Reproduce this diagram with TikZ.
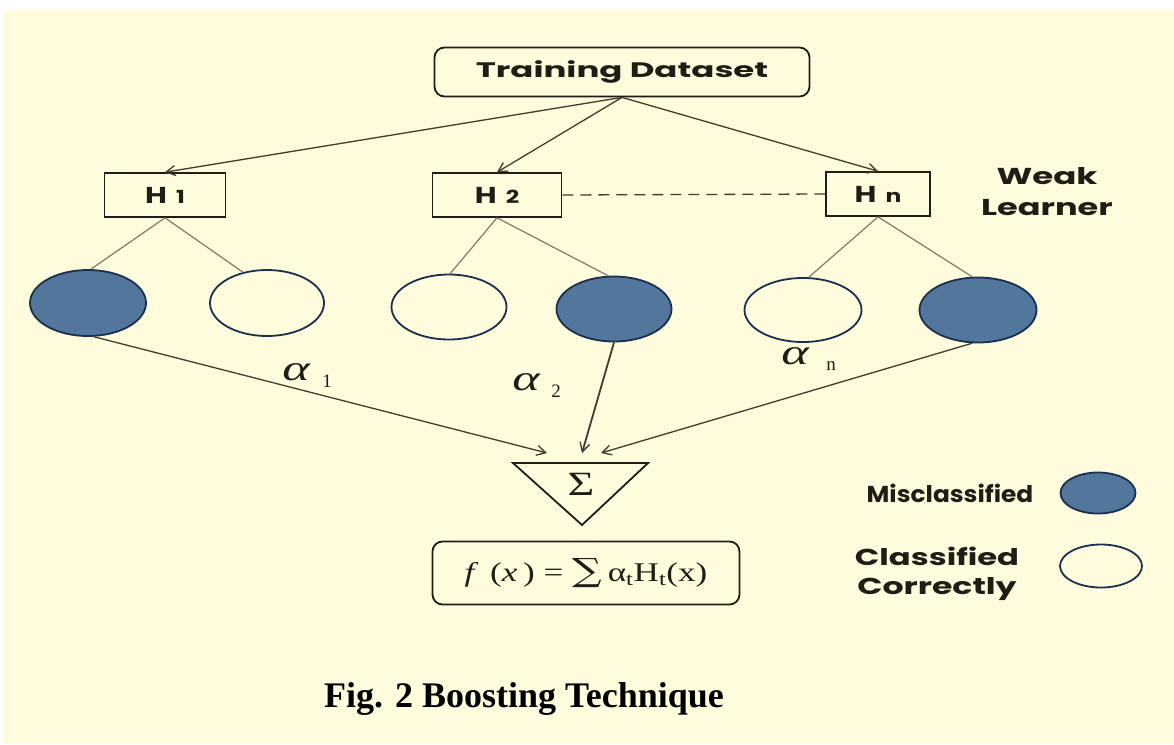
\documentclass[tikz,border=0pt]{standalone}
\usepackage{fontspec}
\setmainfont{Liberation Serif}
\newfontfamily\lblfont{Poppins}
\newfontfamily\opfont{DejaVu Serif}
\usetikzlibrary{arrows.meta,shapes.geometric}
\definecolor{bg}{RGB}{255,251,221}
\definecolor{ink}{RGB}{34,28,22}
\definecolor{arr}{RGB}{70,58,44}
\definecolor{branch}{RGB}{130,120,104}
\definecolor{rim}{RGB}{26,48,78}
\definecolor{mis}{RGB}{82,118,156}
% horizontally widened text
\newcommand{\stretchx}[2]{\scalebox{#1}[1]{#2}}
\tikzset{
  lbl/.style={font=\lblfont\bfseries\fontsize{21}{25}\selectfont, text=ink},
  rbox/.style={draw=ink, line width=1.8pt, rounded corners=10pt, inner sep=0pt, lbl},
  hbox/.style={draw=ink, line width=1.6pt, inner sep=0pt, lbl},
  oval/.style={ellipse, draw=rim, line width=1.8pt, inner sep=0pt},
  wrong/.style={oval, fill=mis},
  right/.style={oval, fill=bg},
  feed/.style={draw=arr, line width=1.3pt, -{Straight Barb[length=9pt,width=10pt,line width=1.3pt]}},
  branchline/.style={draw=branch, line width=1.2pt},
  alph/.style={font=\itshape\fontsize{36}{36}\selectfont, text=ink, inner sep=0pt},
  idx/.style={font=\fontsize{19}{19}\selectfont, text=ink, inner sep=0pt},
}
\newcommand{\hlab}[1]{\stretchx{1.3}{H\hspace{7pt}{\fontsize{18}{18}\selectfont #1}}}
\begin{document}
\begin{tikzpicture}[x=1pt,y=-1pt]
\useasboundingbox (0,0) rectangle (1174,744);
\fill[white] (0,0) rectangle (1174,744);
\fill[bg] (3,10) rectangle (1174,744);

% data set and weak learners
\node[rbox, minimum width=375pt, minimum height=49pt] (td) at (622,72) {\stretchx{1.62}{Training Dataset}};
\node[hbox, minimum width=121pt, minimum height=44pt, font=\lblfont\bfseries\fontsize{23}{25}\selectfont] (h1) at (165,195) {\hlab{1}};
\node[hbox, minimum width=129pt, minimum height=44pt, font=\lblfont\bfseries\fontsize{23}{25}\selectfont] (h2) at (497,195) {\hlab{2}};
\node[hbox, minimum width=104pt, minimum height=44pt, font=\lblfont\bfseries\fontsize{23}{25}\selectfont] (hn) at (878,194) {\hlab{n}};
\node[lbl, align=center, font=\lblfont\bfseries\fontsize{23}{31}\selectfont] (wl) at (1047,192)
  {\stretchx{1.48}{Weak}\\\stretchx{1.46}{Learner}};

\draw[feed] (td.south) -- (h1.north);
\draw[feed] (td.south) -- (h2.north);
\draw[feed] (td.south) -- (hn.north);
\draw[draw=arr, line width=1.3pt, dash pattern=on 11pt off 7pt] (h2.east) -- (hn.west);

% outcomes of each learner
\node[wrong, minimum width=116pt, minimum height=66pt] (e1) at (88,303) {};
\node[right, minimum width=114pt, minimum height=66pt] (e2) at (267,303) {};
\node[right, minimum width=115pt, minimum height=65pt] (e3) at (449,307) {};
\node[wrong, minimum width=115pt, minimum height=65pt] (e4) at (614,309) {};
\node[right, minimum width=117pt, minimum height=64pt] (e5) at (803,310) {};
\node[wrong, minimum width=117pt, minimum height=65pt] (e6) at (978,310) {};

\draw[branchline] (h1.south) -- (e1.85);
\draw[branchline] (h1.south) -- (e2.128);
\draw[branchline] (h2.south) -- (e3.88);
\draw[branchline] (h2.south) -- (e4.100);
\draw[branchline] (hn.south) -- (e5.80);
\draw[branchline] (hn.south) -- (e6.100);

% weighted combination
\draw[ink, line width=1.8pt, line join=miter] (513,463) -- (648,463) -- (582,525) -- cycle;
\node[font=\fontsize{34}{34}\selectfont, text=ink, inner sep=0pt] (sig) at (581,484) {\stretchx{1.35}{Σ}};
\coordinate (a1) at (547,453);
\coordinate (a2) at (582,453);
\coordinate (a3) at (601,453);
\draw[feed] (e1.-80) -- (a1);
\draw[feed, line width=1.8pt] (e4.south) -- (a2);
\draw[feed] (e6.-100) -- (a3);

\node[alph] (al1) at (296,372) {\stretchx{1.45}{α}};
\node[idx] (i1) at (327,381) {1};
\node[alph] (al2) at (526,382) {\stretchx{1.45}{α}};
\node[idx] (i2) at (556,391) {2};
\node[alph] (aln) at (795,356) {\stretchx{1.45}{α}};
\node[idx] (in) at (831,366) {n};

\node[rbox, minimum width=307pt, minimum height=63pt, font=\fontsize{27}{27}\selectfont] (fb) at (586,573)
  {\stretchx{1.3}{\textit{f}\,\,(\textit{x}\,) = {\opfont\fontsize{32}{32}\selectfont ∑}\,α\textsubscript{t}H\textsubscript{t}(x)}};

% legend
\node[lbl, font=\lblfont\bfseries\fontsize{23}{26}\selectfont] (lm) at (950,493) {\stretchx{1.08}{Misclassified}};
\node[wrong, minimum width=75pt, minimum height=41pt] (k1) at (1098,493) {};
\node[lbl, align=center, font=\lblfont\bfseries\fontsize{23}{29}\selectfont] (lc) at (937,574)
  {\stretchx{1.4}{Classified}\\\stretchx{1.44}{Correctly}};
\node[right, minimum width=82pt, minimum height=43pt] (k2) at (1101,566) {};

% caption
\node[anchor=base, font=\bfseries\fontsize{36}{36}\selectfont, inner sep=0pt] (cap) at (524,707) {Fig. 2 Boosting Technique};
\end{tikzpicture}
\end{document}
